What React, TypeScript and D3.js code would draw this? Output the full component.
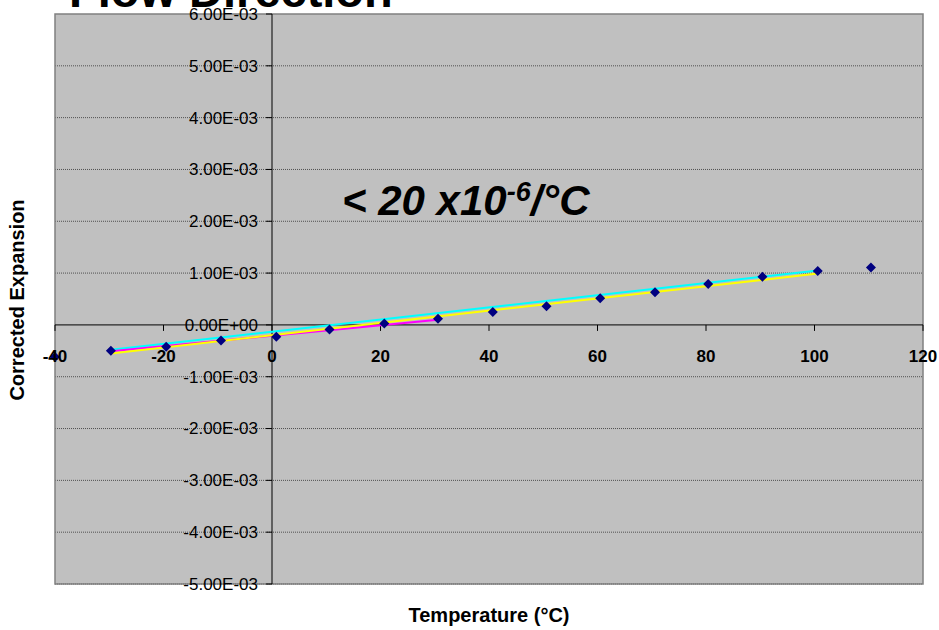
import React from "react";
import * as d3 from "d3";

const temps = [-40, -29.7, -19.5, -9.4, 0.8, 10.6, 20.7, 30.6, 40.7, 50.6, 60.5, 70.6, 80.4, 90.4, 100.6, 110.4];
const expansion = [-0.62e-3, -0.5e-3, -0.42e-3, -0.3e-3, -0.23e-3, -0.09e-3, 0.025e-3, 0.12e-3, 0.25e-3, 0.36e-3, 0.515e-3, 0.63e-3, 0.79e-3, 0.93e-3, 1.04e-3, 1.11e-3];

const cyanTrendX = [-29.7, 100.6];
const cyanTrendY = [-0.48e-3, 1.05e-3];
const yellowTrendX = [-29.7, 100.6];
const yellowTrendY = [-0.55e-3, 0.99e-3];
const magentaTrendX = [-29.7, 30.6];
const magentaTrendY = [-0.51e-3, 0.1e-3];

const xTicks = [-40, -20, 0, 20, 40, 60, 80, 100, 120];
const yTicks = [6e-3, 5e-3, 4e-3, 3e-3, 2e-3, 1e-3, 0, -1e-3, -2e-3, -3e-3, -4e-3, -5e-3];
const yTickLabels = ["6.00E-03", "5.00E-03", "4.00E-03", "3.00E-03", "2.00E-03", "1.00E-03", "0.00E+00", "-1.00E-03", "-2.00E-03", "-3.00E-03", "-4.00E-03", "-5.00E-03"];

const title = "Flow Direction";
const xTitle = "Temperature (°C)";
const yTitle = "Corrected Expansion";

const W = 939, H = 630;
const L = 55, R = 923, T = 14, B = 584;

export default function App() {
  const x = d3.scaleLinear().domain([-40, 120]).range([L, R]);
  const y = d3.scaleLinear().domain([-5e-3, 6e-3]).range([B, T]);
  const line = d3.line<[number, number]>().x(d => x(d[0])).y(d => y(d[1]));
  const trend = (xs: number[], ys: number[]) => line(xs.map((v, i) => [v, ys[i]] as [number, number])) || "";
  const diamond = "M0,-5L5,0L0,5L-5,0Z";
  const font = "Arial, 'Liberation Sans', sans-serif";

  return (
    <svg width={W} height={H} style={{ position: "absolute", left: 0, top: 0, background: "#fff" }} fontFamily={font}>
      <rect x={L} y={T} width={R - L} height={B - T} fill="#c0c0c0" />
      {yTicks.filter(v => v !== 0 && v !== 6e-3).map(v => (
        <line key={"g" + v} x1={L} x2={R} y1={y(v)} y2={y(v)} stroke="#505050" strokeWidth={1} strokeDasharray="1,1" />
      ))}
      <rect x={L} y={T} width={R - L} height={B - T} fill="none" stroke="#808080" strokeWidth={1.5} />
      {/* axes */}
      <line x1={x(0)} x2={x(0)} y1={T} y2={B} stroke="#000" strokeWidth={1} />
      <line x1={L} x2={R} y1={y(0)} y2={y(0)} stroke="#000" strokeWidth={1} />
      {yTicks.map(v => (
        <line key={"yt" + v} x1={x(0) - 6} x2={x(0)} y1={y(v)} y2={y(v)} stroke="#000" />
      ))}
      {xTicks.map(v => (
        <line key={"xt" + v} x1={x(v)} x2={x(v)} y1={y(0)} y2={y(0) + 6} stroke="#000" />
      ))}
      {/* trend lines */}
      <path d={trend(cyanTrendX, cyanTrendY)} stroke="#00ffff" strokeWidth={2} fill="none" />
      <path d={trend(magentaTrendX, magentaTrendY)} stroke="#ff00ff" strokeWidth={2} fill="none" />
      <path d={trend(yellowTrendX, yellowTrendY)} stroke="#ffff00" strokeWidth={2} fill="none" />
      {/* markers */}
      {temps.map((t, i) => (
        <path key={"m" + i} d={diamond} transform={`translate(${x(t)},${y(expansion[i])})`} fill="#000080" />
      ))}
      {/* tick labels */}
      {yTicks.map((v, i) => (
        <text key={"yl" + v} x={x(0) - 14} y={y(v)} dy="0.35em" textAnchor="end" fontSize={17} fill="#000">
          {yTickLabels[i]}
        </text>
      ))}
      {xTicks.map(v => (
        <text key={"xl" + v} x={x(v)} y={y(0) + 37} textAnchor="middle" fontSize={17} fontWeight="bold" fill="#000">
          {String(v)}
        </text>
      ))}
      {/* annotation */}
      <text x={342} y={215} fontSize={42} fontWeight="bold" fontStyle="italic" fill="#000">
        {"< 20 x10"}
        <tspan fontSize={27} dy={-14}>-6</tspan>
        <tspan dy={14}>/°C</tspan>
      </text>
      {/* titles */}
      <text x={69} y={7} fontSize={47} fontWeight="bold" fill="#000">{title}</text>
      <text x={489} y={622} textAnchor="middle" fontSize={20} fontWeight="bold" fill="#000">{xTitle}</text>
      <text transform={`translate(24,300) rotate(-90)`} textAnchor="middle" fontSize={20} fontWeight="bold" fill="#000">{yTitle}</text>
    </svg>
  );
}
